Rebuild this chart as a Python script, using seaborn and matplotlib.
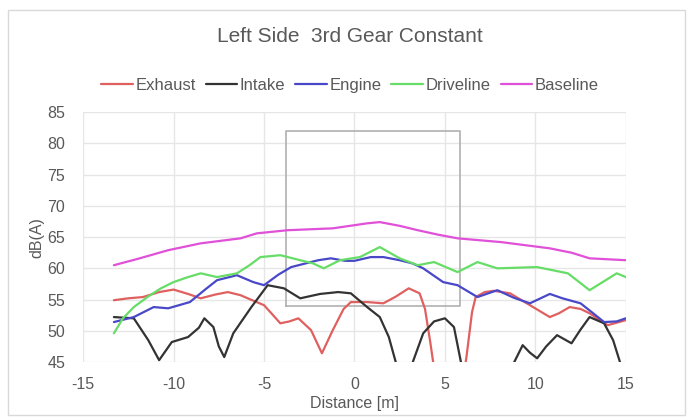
import numpy as np
import pandas as pd
import matplotlib.pyplot as plt
import seaborn as sns
from matplotlib.patches import Rectangle

# values, distance [m] vs dB(A)
exhaust_x = [-13.3, -12.5, -11.7, -10.8, -10.0, -9.2, -8.5, -7.7, -7.0, -6.3, -5.9, -5.0, -4.5, -4.1,
             -3.6, -3.1, -2.4, -1.8, -1.2, -0.6, -0.2, 0.7, 1.6, 2.3, 3.0, 3.6, 3.9, 4.2, 4.6, 5.2,
             5.9, 6.2, 6.5, 6.7, 7.2, 7.7, 8.6, 9.7, 10.8, 11.3, 11.9, 12.5, 13.0, 14.0, 15.0]
exhaust_y = [54.9, 55.2, 55.4, 56.2, 56.6, 55.9, 55.2, 55.8, 56.2, 55.7, 55.2, 54.1, 52.5, 51.2,
             51.5, 52.0, 50.1, 46.4, 50.1, 53.5, 54.6, 54.6, 54.4, 55.5, 56.8, 56.0, 53.5, 48.0, 40.0, 36.0,
             40.0, 46.0, 53.0, 55.4, 56.2, 56.4, 56.0, 54.1, 52.2, 52.8, 53.8, 53.5, 52.8, 50.9, 51.7]

intake_x = [-13.3, -12.2, -11.4, -10.8, -10.1, -9.2, -8.6, -8.3, -7.8, -7.5, -7.2, -6.7, -5.7, -4.8,
            -3.9, -3.0, -1.9, -0.9, -0.2, 0.7, 1.4, 1.9, 2.3, 2.8, 3.2, 3.8, 4.4, 5.0, 5.5, 5.9,
            6.5, 7.5, 8.4, 8.8, 9.3, 9.7, 10.1, 10.6, 11.2, 12.0, 12.5, 13.0, 13.8, 14.3, 14.7, 15.0]
intake_y = [52.2, 52.0, 48.5, 45.3, 48.2, 49.0, 50.5, 52.0, 50.6, 47.5, 45.8, 49.6, 53.8, 57.3,
            56.8, 55.2, 55.9, 56.2, 56.0, 53.8, 52.2, 49.0, 44.8, 42.0, 44.8, 49.6, 51.5, 52.0, 50.6, 44.8,
            38.0, 36.0, 40.0, 44.8, 47.7, 46.5, 45.6, 47.5, 49.3, 48.0, 50.2, 52.2, 51.2, 48.5, 44.8, 43.0]

engine_x = [-13.3, -12.2, -11.1, -10.3, -9.1, -8.3, -7.6, -6.5, -5.6, -5.0, -4.2, -3.5, -2.0, -1.3,
            -0.5, 0.0, 0.9, 1.6, 2.5, 3.2, 3.8, 4.9, 5.7, 6.8, 7.9, 8.8, 9.7, 10.8, 11.5, 12.5,
            13.2, 13.8, 14.5, 15.0]
engine_y = [51.4, 52.2, 53.8, 53.6, 54.6, 56.5, 58.1, 58.9, 57.8, 57.3, 59.0, 60.2, 61.3, 61.6,
            61.2, 61.2, 61.8, 61.8, 61.3, 60.8, 60.0, 57.8, 57.3, 55.4, 56.5, 55.3, 54.4, 55.9, 55.2, 54.4,
            52.8, 51.4, 51.5, 52.0]

driveline_x = [-13.3, -12.8, -12.2, -11.4, -10.7, -10.0, -9.2, -8.5, -7.6, -6.5, -5.8, -5.2, -4.1,
               -3.0, -2.3, -1.7, -0.8, 0.3, 1.4, 2.5, 3.5, 4.4, 5.7, 6.8, 7.9, 10.1, 11.8, 13.0, 14.5, 15.0]
driveline_y = [49.6, 52.0, 53.8, 55.5, 56.8, 57.8, 58.6, 59.2, 58.6, 59.2, 60.5, 61.8, 62.1,
               61.3, 60.8, 60.0, 61.3, 61.8, 63.4, 61.6, 60.5, 61.0, 59.4, 61.0, 60.0, 60.2, 59.2, 56.5, 59.2, 58.6]

baseline_x = [-13.3, -12.0, -10.3, -8.5, -6.3, -5.4, -3.7, -1.2, 0.7, 1.4, 2.5, 3.5, 4.6, 5.7,
              8.1, 10.8, 12.0, 13.0, 15.0]
baseline_y = [60.5, 61.5, 62.9, 64.0, 64.8, 65.6, 66.1, 66.4, 67.2, 67.4, 66.8, 66.1, 65.4, 64.8,
              64.2, 63.2, 62.5, 61.6, 61.3]

# vehicle outline box
box_x = [-3.8, 5.85]
box_y = [54.0, 82.0]

series = ["Exhaust", "Intake", "Engine", "Driveline", "Baseline"]
colors = ["#e06060", "#333333", "#4848c8", "#66dd66", "#e050d8"]


def main():
    frames = []
    for name, xs, ys in zip(series,
                            [exhaust_x, intake_x, engine_x, driveline_x, baseline_x],
                            [exhaust_y, intake_y, engine_y, driveline_y, baseline_y]):
        frames.append(pd.DataFrame({"x": xs, "y": ys, "series": name}))
    df = pd.concat(frames, ignore_index=True)

    sns.set_style("white")
    plt.rcParams['font.family'] = ['Liberation Sans', 'DejaVu Sans']
    plt.rcParams['axes.unicode_minus'] = False
    txt = "#595959"

    fig = plt.figure(figsize=(6.93, 4.2), dpi=100)
    ax = fig.add_axes([0.12, 0.138, 0.783, 0.595])

    # light grid like the spreadsheet chart
    ax.grid(True, color="#e6e6e6", linewidth=1)
    ax.set_axisbelow(True)

    bx = [box_x[0], box_x[1], box_x[1], box_x[0], box_x[0]]
    by = [box_y[0], box_y[0], box_y[1], box_y[1], box_y[0]]
    ax.plot(bx, by, color="#b0b0b0", linewidth=1.2, zorder=1)

    sns.lineplot(data=df, x="x", y="y", hue="series", hue_order=series,
                 palette=colors, linewidth=1.6, ax=ax, legend=False, sort=False,
                 estimator=None)

    ax.set_xlim(-15, 15)
    ax.set_ylim(45, 85)
    ax.set_xticks(np.arange(-15, 16, 5))
    ax.set_yticks(np.arange(45, 86, 5))
    for s in ax.spines.values():
        s.set_visible(False)
    ax.tick_params(axis="x", length=0, labelsize=11.5, labelcolor=txt, pad=11)
    ax.tick_params(axis="y", length=0, labelsize=11.5, labelcolor=txt, pad=13)
    ax.set_xlabel("Distance [m]", fontsize=11.5, color=txt, labelpad=3)
    ax.set_ylabel("dB(A)", fontsize=11.5, color=txt, labelpad=2)

    handles = [plt.Line2D([], [], color=c, linewidth=1.6) for c in colors]
    fig.legend(handles, series, loc="center", bbox_to_anchor=(0.505, 0.797), ncol=5,
               frameon=False, fontsize=12, labelcolor=txt, handlelength=1.9,
               handletextpad=0.15, columnspacing=0.6)

    fig.text(0.505, 0.912, "Left Side  3rd Gear Constant", ha="center", va="center",
             fontsize=15, color=txt)

    # outer chart border
    fig.patches.append(Rectangle((0.012, 0.012), 0.976, 0.964, transform=fig.transFigure,
                                 fill=False, edgecolor="#d9d9d9", linewidth=1))

    plt.savefig("out.png", dpi=100)
    plt.close()


if __name__ == "__main__":
    main()
